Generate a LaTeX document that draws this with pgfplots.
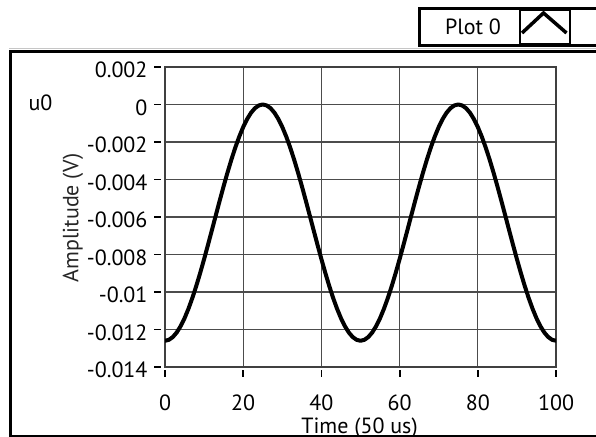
\documentclass[border=0pt]{standalone}
\usepackage{fontspec}
\setmainfont{PT Sans}
\usepackage{pgfplots}
\pgfplotsset{compat=1.18}
\usepackage{pgfplotstable}

\pgfplotstableread{
x y
0 -0.012600
1 -0.012550
2 -0.012402
3 -0.012158
4 -0.011821
5 -0.011397
6 -0.010893
7 -0.010316
8 -0.009676
9 -0.008982
10 -0.008247
11 -0.007481
12 -0.006696
13 -0.005904
14 -0.005120
15 -0.004353
16 -0.003618
17 -0.002924
18 -0.002284
19 -0.001707
20 -0.001203
21 -0.000779
22 -0.000442
23 -0.000198
24 -0.000050
25 0.000000
26 -0.000050
27 -0.000198
28 -0.000442
29 -0.000779
30 -0.001203
31 -0.001707
32 -0.002284
33 -0.002924
34 -0.003618
35 -0.004353
36 -0.005120
37 -0.005904
38 -0.006696
39 -0.007481
40 -0.008247
41 -0.008982
42 -0.009676
43 -0.010316
44 -0.010893
45 -0.011397
46 -0.011821
47 -0.012158
48 -0.012402
49 -0.012550
50 -0.012600
51 -0.012550
52 -0.012402
53 -0.012158
54 -0.011821
55 -0.011397
56 -0.010893
57 -0.010316
58 -0.009676
59 -0.008982
60 -0.008247
61 -0.007481
62 -0.006696
63 -0.005904
64 -0.005120
65 -0.004353
66 -0.003618
67 -0.002924
68 -0.002284
69 -0.001707
70 -0.001203
71 -0.000779
72 -0.000442
73 -0.000198
74 -0.000050
75 0.000000
76 -0.000050
77 -0.000198
78 -0.000442
79 -0.000779
80 -0.001203
81 -0.001707
82 -0.002284
83 -0.002924
84 -0.003618
85 -0.004353
86 -0.005120
87 -0.005904
88 -0.006696
89 -0.007481
90 -0.008247
91 -0.008982
92 -0.009676
93 -0.010316
94 -0.010893
95 -0.011397
96 -0.011821
97 -0.012158
98 -0.012402
99 -0.012550
100 -0.012600
}\wave

\begin{document}
\fontsize{22bp}{25bp}\selectfont
\begin{tikzpicture}[x=1bp,y=1bp]
\useasboundingbox (0,0) rectangle (596,437);
\clip (0,0) rectangle (596,437);
% main frame
\draw[gray!45, line width=1bp] (9,388) -- (610,388);
\draw[black, line width=3bp] (10.5,-5) -- (10.5,385.5) -- (610,385.5);
% legend
\draw[black, line width=3bp, fill=white] (419.5,391.5) rectangle (610,428.5);
\node[anchor=center, inner sep=0pt] at (473,410) {Plot 0};
\draw[black, line width=2bp] (520,393) rectangle (570,427);
\draw[black, line width=3.5bp, line join=miter] (522,404) -- (543.5,424) -- (566.5,404);
% labels
\node[anchor=center, inner sep=0pt] at (40.5,334) {u0};
\node[anchor=center, inner sep=0pt, rotate=90, text=black!85] at (73,219) {Amplitude (V)};
\node[anchor=base, inner sep=0pt] at (359.5,3) {Time (50 us)};
\draw[black, line width=3bp] (9,0.5) -- (610,0.5);
\begin{axis}[
  at={(165bp,70bp)}, anchor=south west,
  scale only axis, width=391bp, height=300bp,
  xmin=0, xmax=100, ymin=-0.014, ymax=0.002,
  xtick={0,20,40,60,80,100},
  xticklabels={0,20,40,60,80,100},
  ytick={-0.014,-0.012,-0.01,-0.008,-0.006,-0.004,-0.002,0,0.002},
  yticklabels={-0.014,-0.012,-0.01,-0.008,-0.006,-0.004,-0.002,0,0.002},
  scaled y ticks=false, scaled x ticks=false,
  tick label style={font=\fontsize{22bp}{25bp}\selectfont, text=black},
  tick pos=left,
  tick align=outside, major tick length=7bp,
  xtick style={black, line width=1.8bp, yshift=-3bp},
  ytick style={black, line width=1.8bp, xshift=-4bp},
  xticklabel style={yshift=-13bp},
  yticklabel style={xshift=-3bp, yshift=-3bp},
  grid=major,
  major grid style={black!70, line width=1.1bp},
  axis line style={black!75, line width=1.8bp},
  clip=true,
]
\addplot[black, line width=4bp, line join=round, line cap=round] table[x=x, y=y] {\wave};
\end{axis}
\end{tikzpicture}
\end{document}
